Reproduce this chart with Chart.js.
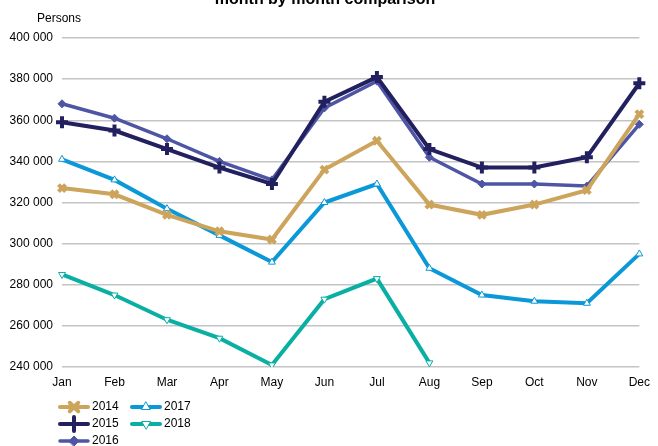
<!DOCTYPE html>
<html>
<head>
<meta charset="utf-8">
<script src="https://cdn.jsdelivr.net/npm/chart.js@4.4.1/dist/chart.umd.min.js"></script>
<style>
  html, body { margin: 0; padding: 0; background: #fff; }
  #wrap { position: relative; width: 658px; height: 446px; }
</style>
</head>
<body>
<div id="wrap"><canvas id="chart" width="658" height="446"></canvas></div>
<script>
// chart values
const months = ['Jan', 'Feb', 'Mar', 'Apr', 'May', 'Jun', 'Jul', 'Aug', 'Sep', 'Oct', 'Nov', 'Dec'];
const y2014 = [327000, 324000, 314000, 306000, 302000, 336000, 350000, 319000, 314000, 319000, 326000, 363000];
const y2015 = [359000, 355000, 346000, 337000, 329000, 369000, 381000, 346000, 337000, 337000, 342000, 378000];
const y2016 = [368000, 361000, 351000, 340000, 331000, 366000, 379000, 342000, 329000, 329000, 328000, 358000];
const y2017 = [341000, 331000, 317000, 304000, 291000, 320000, 329000, 288000, 275000, 272000, 271000, 295000];
const y2018 = [285000, 275000, 263000, 254000, 241000, 273000, 283000, 242000, null, null, null, null];
const yTicks = [240000, 260000, 280000, 300000, 320000, 340000, 360000, 380000, 400000];

const FONT = '"Liberation Sans", Arial, sans-serif';

function series(label, data, color, marker) {
  return Object.assign({
    label: label,
    data: data,
    borderColor: color,
    borderWidth: 4,
    pointBorderColor: color,
    pointBackgroundColor: color,
    tension: 0,
    spanGaps: false
  }, marker);
}

const datasets = [
  series('2014', y2014, '#CDA45C', { pointStyle: 'crossRot', pointRadius: 5, pointBorderWidth: 4 }),
  series('2015', y2015, '#22205E', { pointStyle: 'cross', pointRadius: 6, pointBorderWidth: 4 }),
  series('2016', y2016, '#4D55A4', { pointStyle: 'rectRot', pointRadius: 4, pointBorderWidth: 1, borderWidth: 3.5 }),
  series('2017', y2017, '#0A98D8', { pointStyle: 'triangle', pointRadius: 4, pointBorderWidth: 1, pointBackgroundColor: '#fff' }),
  series('2018', y2018, '#0AAFA4', { pointStyle: 'triangle', pointRotation: 180, pointRadius: 4, pointBorderWidth: 1, pointBackgroundColor: '#fff' })
];

// title, axis caption and the column legend are painted straight onto the canvas
const extras = {
  id: 'extras',
  afterDraw(chart) {
    const ctx = chart.ctx;
    ctx.save();
    ctx.fillStyle = '#000';
    ctx.font = 'bold 16px ' + FONT;
    ctx.textAlign = 'center';
    ctx.textBaseline = 'alphabetic';
    ctx.fillText('month by month comparison', 325, 4);

    ctx.font = '12px ' + FONT;
    ctx.textAlign = 'left';
    ctx.textBaseline = 'middle';
    ctx.fillText('Persons', 37, 19);

    // legend: column-major, 3 rows
    const cols = [60, 132];
    const rows = [407, 424, 441];
    chart.data.datasets.forEach((ds, i) => {
      const x = cols[Math.floor(i / 3)];
      const y = rows[i % 3];
      ctx.strokeStyle = ds.borderColor;
      ctx.lineWidth = ds.borderWidth;
      ctx.lineCap = 'round';
      ctx.beginPath();
      ctx.moveTo(x, y);
      ctx.lineTo(x + 28, y);
      ctx.stroke();
      ctx.fillStyle = ds.pointBackgroundColor;
      ctx.strokeStyle = ds.pointBorderColor;
      ctx.lineWidth = ds.pointBorderWidth;
      Chart.helpers.drawPoint(ctx, {
        pointStyle: ds.pointStyle,
        radius: ds.pointRadius + 1,
        rotation: ds.pointRotation || 0,
        borderWidth: ds.pointBorderWidth
      }, x + 14, y);
      ctx.fillStyle = '#000';
      ctx.fillText(ds.label, x + 32, y);
    });
    ctx.restore();
  }
};

new Chart(document.getElementById('chart'), {
  type: 'line',
  data: { labels: months, datasets: datasets },
  plugins: [extras],
  options: {
    responsive: false,
    animation: false,
    layout: { padding: { top: 38, right: 13, left: 0, bottom: 0 } },
    plugins: {
      legend: { display: false },
      tooltip: { enabled: false }
    },
    scales: {
      x: {
        offset: false,
        grid: { display: false, drawTicks: false, tickLength: 0 },
        border: { display: false },
        ticks: { color: '#000', font: { family: FONT, size: 12 }, padding: 8, maxRotation: 0 },
        afterFit(axis) { axis.height = 79; }
      },
      y: {
        min: 240000,
        max: 400000,
        afterBuildTicks(axis) { axis.ticks = yTicks.map(v => ({ value: v })); },
        grid: { color: '#C4C4C4', lineWidth: 1.5, drawTicks: false },
        border: { display: false },
        ticks: {
          color: '#000',
          padding: 9,
          font: { family: FONT, size: 12 },
          callback: v => String(v).replace(/\B(?=(\d{3})+(?!\d))/g, ' ')
        },
        afterFit(axis) { axis.width = 62; }
      }
    }
  }
});
</script>
</body>
</html>
